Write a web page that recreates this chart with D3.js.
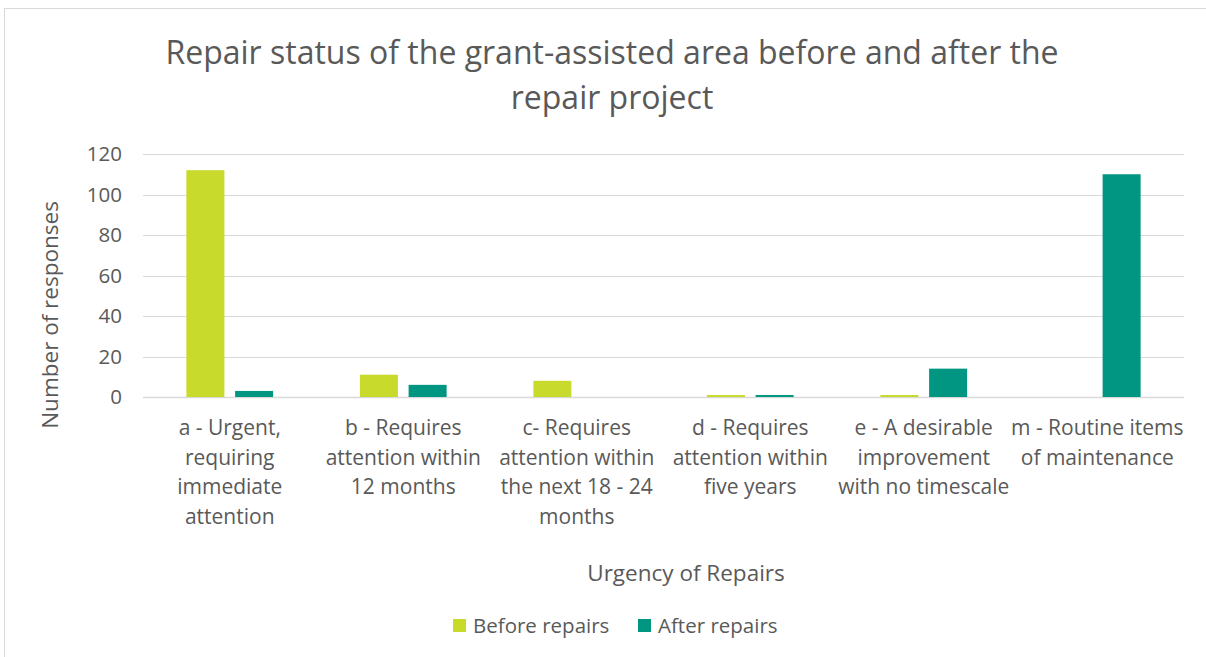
<!DOCTYPE html>
<html>
<head>
<meta charset="utf-8">
<script src="https://cdn.jsdelivr.net/npm/d3@7"></script>
<style>
  body { margin: 0; background: #fff; }
  svg { display: block; }
</style>
</head>
<body>
<div id="chart"></div>
<script>
const categories = [
    ["a - Urgent,", "requiring", "immediate", "attention"],
    ["b - Requires", "attention within", "12 months"],
    ["c- Requires", "attention within", "the next 18 - 24", "months"],
    ["d - Requires", "attention within", "five years"],
    ["e - A desirable", "improvement", "with no timescale"],
    ["m - Routine items", "of maintenance"]
];
const seriesNames = ["Before repairs", "After repairs"];
const beforeValues = [112, 11, 8, 1, 1, 0];
const afterValues = [3, 6, 0, 1, 14, 110];
const yTicks = [0, 20, 40, 60, 80, 100, 120];

const width = 1206, height = 657;
const font = "'Open Sans', sans-serif";
const textColor = "#595959";
const colors = ["#c8da2b", "#009681"];

const plotLeft = 143, plotRight = 1184, plotTop = 154, plotBottom = 397;

const data = categories.map((c, i) => ({
    label: c,
    key: c.join(" "),
    values: [beforeValues[i], afterValues[i]]
}));

const svg = d3.select("#chart").append("svg")
    .attr("width", width)
    .attr("height", height);

svg.append("rect")
    .attr("x", 4.5).attr("y", 8.5)
    .attr("width", width + 10).attr("height", height + 10)
    .attr("fill", "#fff")
    .attr("stroke", "#d9d9d9");

const x0 = d3.scaleBand()
    .domain(data.map(d => d.key))
    .range([plotLeft, plotRight])
    .paddingInner(0.5)
    .paddingOuter(0.25);

const x1 = d3.scaleBand()
    .domain(seriesNames)
    .range([0, x0.bandwidth()])
    .paddingInner(0.22);

const y = d3.scaleLinear()
    .domain([0, 120])
    .range([plotBottom, plotTop]);

// gridlines
svg.append("g")
    .selectAll("line")
    .data(yTicks)
    .enter().append("line")
    .attr("x1", plotLeft).attr("x2", plotRight)
    .attr("y1", d => Math.round(y(d)) + 0.5)
    .attr("y2", d => Math.round(y(d)) + 0.5)
    .attr("stroke", "#d9d9d9")
    .attr("stroke-width", d => d === 0 ? 1.5 : 1);

// y axis labels
const yAxis = svg.append("g")
    .attr("transform", `translate(${plotLeft - 21},0)`)
    .call(d3.axisLeft(y).tickValues(yTicks).tickSize(0).tickPadding(0));
yAxis.select(".domain").remove();
yAxis.selectAll("text")
    .style("font-family", font)
    .style("font-size", "20.5px")
    .attr("fill", textColor);

// bars
svg.append("g")
    .selectAll("g")
    .data(data)
    .enter().append("g")
    .attr("transform", d => `translate(${x0(d.key)},0)`)
    .selectAll("rect")
    .data(d => d.values.map((v, i) => ({ name: seriesNames[i], value: v, i })))
    .enter().append("rect")
    .attr("x", d => x1(d.name))
    .attr("width", x1.bandwidth())
    .attr("y", d => y(d.value))
    .attr("height", d => y(0) - y(d.value))
    .attr("fill", d => colors[d.i]);

// x category labels
const xLabels = svg.append("g")
    .selectAll("text")
    .data(data)
    .enter().append("text")
    .attr("x", d => x0(d.key) + x0.bandwidth() / 2)
    .attr("y", 435)
    .attr("text-anchor", "middle")
    .style("font-family", font)
    .style("font-size", "21px")
    .attr("fill", textColor);
xLabels.selectAll("tspan")
    .data(d => d.label)
    .enter().append("tspan")
    .attr("x", function () { return d3.select(this.parentNode).attr("x"); })
    .attr("dy", (d, i) => i === 0 ? 0 : 29.5)
    .text(d => d);

// title
const titleLines = ["Repair status of the grant-assisted area before and after the", "repair project"];
svg.append("text")
    .attr("x", 612)
    .attr("y", 64)
    .attr("text-anchor", "middle")
    .style("font-family", font)
    .style("font-size", "32px")
    .attr("fill", textColor)
    .selectAll("tspan")
    .data(titleLines)
    .enter().append("tspan")
    .attr("x", 612)
    .attr("dy", (d, i) => i === 0 ? 0 : 45)
    .text(d => d);

// axis titles
svg.append("text")
    .attr("transform", "rotate(-90)")
    .attr("x", -315)
    .attr("y", 58)
    .attr("text-anchor", "middle")
    .style("font-family", font)
    .style("font-size", "22.5px")
    .attr("fill", textColor)
    .text("Number of responses");

svg.append("text")
    .attr("x", 686)
    .attr("y", 581)
    .attr("text-anchor", "middle")
    .style("font-family", font)
    .style("font-size", "22.5px")
    .attr("fill", textColor)
    .text("Urgency of Repairs");

// legend
const legendX = [453, 638];
const legend = svg.append("g")
    .selectAll("g")
    .data(seriesNames)
    .enter().append("g")
    .attr("transform", (d, i) => `translate(${legendX[i]},619)`);
legend.append("rect")
    .attr("width", 13).attr("height", 13)
    .attr("fill", (d, i) => colors[i]);
legend.append("text")
    .attr("x", 20)
    .attr("y", 14)
    .style("font-family", font)
    .style("font-size", "20.5px")
    .attr("fill", textColor)
    .text(d => d);
</script>
</body>
</html>
